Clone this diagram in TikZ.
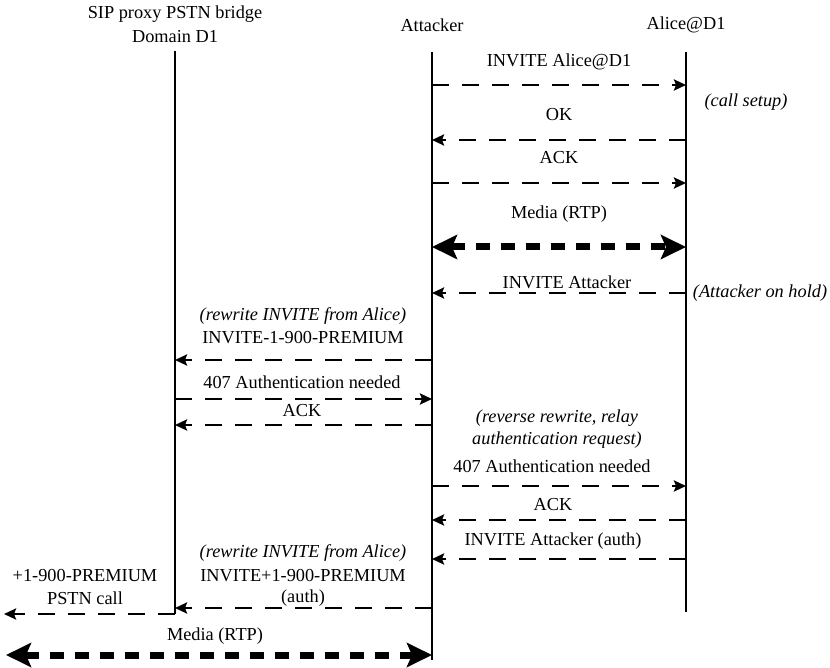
\documentclass[tikz,border=0pt]{standalone}
\usepackage{fontspec}
\setmainfont{Liberation Serif}
\usetikzlibrary{arrows.meta}
\begin{document}
\begin{tikzpicture}[x=1pt,y=-1pt,
  lbl/.style={inner sep=0pt,anchor=center,font=\fontsize{18.3}{21}\selectfont},
  note/.style={lbl,font=\fontsize{18.3}{21}\selectfont\itshape},
  life/.style={line width=1.5pt},
  msg/.style={line width=2.7pt,dash pattern=on 17pt off 13pt,-{Stealth[length=12pt,width=11pt,inset=2pt]}},
  media/.style={line width=7pt,dash pattern=on 14pt off 11pt,{Stealth[length=25pt,width=24pt,inset=5pt]}-{Stealth[length=25pt,width=24pt,inset=5pt]}}]
\useasboundingbox (0,0) rectangle (830,668);
% headers
\node[lbl] (hP1) at (175,14) {SIP proxy PSTN bridge};
\node[lbl] (hP2) at (175,37) {Domain D1};
\node[lbl] (hA) at (432,25) {Attacker};
\node[lbl] (hB) at (686,25) {Alice@D1};
% lifelines
\coordinate (Ptop) at (175,51);
\coordinate (Pbot) at (175,614);
\coordinate (Atop) at (432,52);
\coordinate (Abot) at (432,660);
\coordinate (Btop) at (686,52);
\coordinate (Bbot) at (686,612);
\draw[life] (Ptop) -- (Pbot);
\draw[life] (Atop) -- (Abot);
\draw[life] (Btop) -- (Bbot);
% attacker <-> Alice
\coordinate (a1) at (432,85); \coordinate (b1) at (686,85);
\node[lbl] (t1) at (559,62) {INVITE Alice@D1};
\draw[msg] (a1) -- (b1);
\node[note] (n1) at (746,102) {(call setup)};
\coordinate (a2) at (432,140); \coordinate (b2) at (686,140);
\node[lbl] (t2) at (559,115) {OK};
\draw[msg] (b2) -- (a2);
\coordinate (a3) at (432,183); \coordinate (b3) at (686,183);
\node[lbl] (t3) at (559,158) {ACK};
\draw[msg] (a3) -- (b3);
\coordinate (a4) at (432,247); \coordinate (b4) at (686,247);
\node[lbl] (t4) at (559,214) {Media (RTP)};
\draw[media] (a4) -- (b4);
\coordinate (a5) at (432,293); \coordinate (b5) at (686,293);
\node[lbl] (t5) at (567,282) {INVITE Attacker};
\draw[msg] (b5) -- (a5);
\node[note] (n5) at (760,293) {(Attacker on hold)};
% attacker <-> proxy
\node[note] (t6a) at (303,316) {(rewrite INVITE from Alice)};
\node[lbl] (t6b) at (303,338) {INVITE-1-900-PREMIUM};
\coordinate (a6) at (432,360); \coordinate (p6) at (175,360);
\draw[msg] (a6) -- (p6);
\node[lbl] (t7) at (302,382) {407 Authentication needed};
\coordinate (a7) at (432,399); \coordinate (p7) at (175,399);
\draw[msg] (p7) -- (a7);
\node[lbl] (t8) at (302,411) {ACK};
\coordinate (a8) at (432,425); \coordinate (p8) at (175,425);
\draw[msg] (a8) -- (p8);
% relay
\node[note] (t9a) at (557,418) {(reverse rewrite, relay};
\node[note] (t9b) at (557,440) {authentication request)};
\node[lbl] (t9c) at (552,466) {407 Authentication needed};
\coordinate (a9) at (432,486); \coordinate (b9) at (686,486);
\draw[msg] (a9) -- (b9);
\node[lbl] (t10) at (553,505) {ACK};
\coordinate (a10) at (432,520); \coordinate (b10) at (686,520);
\draw[msg] (b10) -- (a10);
\node[lbl] (t11) at (553,541) {INVITE Attacker (auth)};
\coordinate (a11) at (432,559); \coordinate (b11) at (686,559);
\draw[msg] (b11) -- (a11);
% premium call
\node[note] (t12a) at (303,553) {(rewrite INVITE from Alice)};
\node[lbl] (t12b) at (303,576) {INVITE+1-900-PREMIUM};
\node[lbl] (t12c) at (303,598) {(auth)};
\coordinate (a12) at (432,608); \coordinate (p12) at (175,608);
\draw[msg] (a12) -- (p12);
\node[lbl] (t13a) at (85,576) {+1-900-PREMIUM};
\node[lbl] (t13b) at (85,598) {PSTN call};
\coordinate (x13) at (4,614);
\draw[msg] (Pbot) -- (x13);
\node[lbl] (t14) at (215,636) {Media (RTP)};
\coordinate (x14) at (6,655); \coordinate (a14) at (432,655);
\draw[media] (x14) -- (a14);
\end{tikzpicture}
\end{document}
